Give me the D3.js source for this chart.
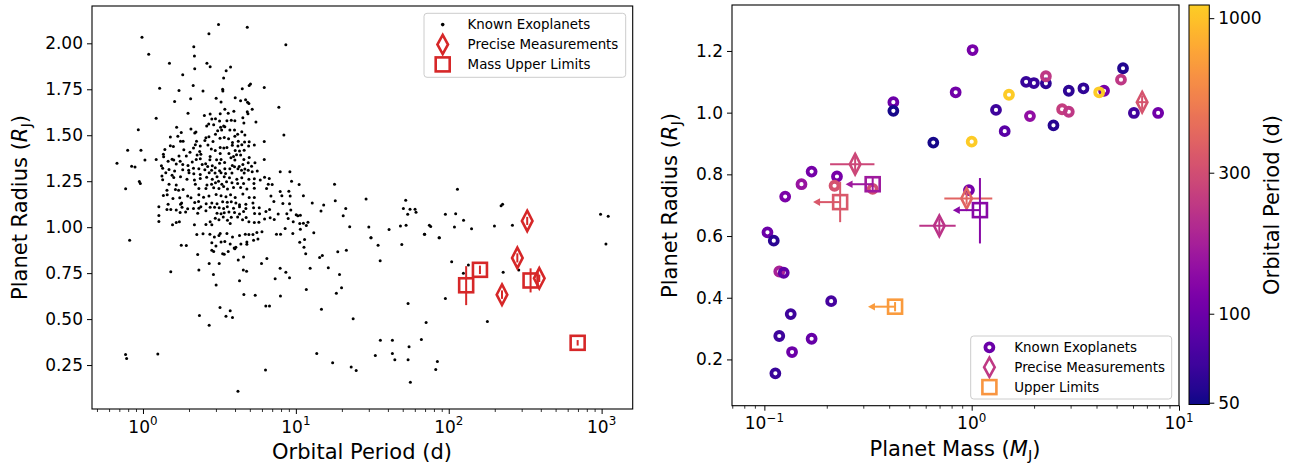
<!DOCTYPE html>
<html><head><meta charset="utf-8">
<script src="https://cdn.jsdelivr.net/npm/d3@7"></script>
<style>body{margin:0;background:#fff} svg{display:block} text{font-family:"DejaVu Sans",sans-serif;fill:#000}</style>
</head><body><svg id="c" width="1291" height="464"></svg>
<script>
// ---------------- DATA ----------------
// Left panel: known exoplanets [orbital period (d), radius (R_J)]
const knownExoplanets = [
[0.985,2.033],[1.09,1.940],[3.12,2.103],[4.81,2.087],[2.70,2.052],[8.6,1.992],[2.15,1.981],[2.17,1.931],
[1.49,1.891],[2.18,1.862],[2.62,1.891],[2.75,1.873],[3.50,1.851],[3.74,1.871],[1.82,1.829],[3.37,1.811],
[2.13,1.771],[5.05,1.779],[4.95,1.770],[6.21,1.760],[1.285,1.755],[1.72,1.744],[2.47,1.740],[4.46,1.753],[3.32,1.750],[3.33,1.740],
[2.05,1.699],[3.01,1.701],[4.01,1.704],[1.61,1.684],[3.24,1.681],[4.35,1.688],[4.69,1.693],[4.83,1.679],[7.74,1.652],[4.93,1.672],
[1.97,1.619],[2.75,1.615],[2.52,1.608],[3.20,1.617],[3.43,1.641],[3.61,1.619],[3.93,1.630],[4.81,1.628],[4.86,1.617],[5.18,1.641],
[1.22,1.593],[2.82,1.588],[2.98,1.590],[3.17,1.577],[3.54,1.579],[3.78,1.581],[3.99,1.579],[4.50,1.595],[5.48,1.572],[2.69,1.561],
[2.90,1.557],[1.66,1.544],[2.06,1.534],[2.61,1.550],[3.22,1.543],[3.37,1.550],[4.57,1.566],[3.43,1.546],
[0.932,1.530],[1.78,1.515],[2.18,1.512],[2.22,1.517],[3.08,1.524],[3.27,1.528],[3.70,1.528],[3.97,1.528],[1.69,1.495],[1.51,1.490],
[2.98,1.505],[2.58,1.486],[2.70,1.492],[3.99,1.495],[4.16,1.505],[4.43,1.519],[4.64,1.501],[8.35,1.501],[1.76,1.468],[1.83,1.468],
[2.24,1.468],[2.54,1.472],[2.87,1.466],[3.63,1.481],[3.85,1.461],[4.20,1.468],[4.62,1.463],[4.95,1.465],[6.21,1.466],[3.19,1.483],[3.40,1.488],
[1.51,1.443],[1.58,1.439],[2.20,1.448],[2.37,1.441],[2.66,1.447],[2.14,1.430],[3.20,1.434],[3.38,1.430],[3.54,1.434],[3.84,1.445],
[4.18,1.441],[4.43,1.448],[4.91,1.441],[5.35,1.447],[0.794,1.419],[0.970,1.419],[1.39,1.423],[1.85,1.421],[2.03,1.408],[2.35,1.412],
[2.80,1.425],[2.97,1.417],[4.01,1.417],[4.28,1.414],[4.59,1.419],[2.26,1.392],[2.39,1.397],[2.75,1.385],[3.20,1.401],[3.65,1.401],
[3.91,1.385],[4.09,1.394],[4.35,1.392],[1.72,1.387],[1.92,1.387],[1.36,1.396],[1.365,1.383],[1.03,1.365],[1.22,1.368],[1.55,1.370],
[1.46,1.358],[1.59,1.365],[1.75,1.359],[2.23,1.368],[2.37,1.372],[2.74,1.367],[3.03,1.367],[3.24,1.368],[3.76,1.377],[3.99,1.365],
[4.57,1.368],[4.95,1.379],[6.21,1.368],
[0.676,1.348],[0.843,1.332],[0.887,1.327],[1.32,1.334],[1.345,1.321],[1.65,1.343],[1.82,1.341],[1.97,1.336],[2.10,1.354],[2.44,1.341],
[2.57,1.345],[2.65,1.330],[2.84,1.334],[3.17,1.348],[3.42,1.352],[3.84,1.336],[3.97,1.328],[4.26,1.330],[4.50,1.341],[4.88,1.350],
[5.13,1.332],[5.40,1.350],[1.48,1.314],[1.61,1.305],[1.82,1.312],[1.99,1.310],[2.14,1.321],[2.32,1.318],[2.54,1.312],[2.81,1.310],
[2.97,1.323],[3.17,1.307],[3.43,1.318],[3.70,1.318],[4.18,1.318],[4.41,1.309],[4.64,1.316],[4.88,1.310],[1.41,1.296],[1.33,1.278],
[1.55,1.283],[2.00,1.296],[2.15,1.290],[2.37,1.287],[2.71,1.296],[2.96,1.294],[3.24,1.296],[3.47,1.292],[3.82,1.294],[4.59,1.294],
[5.18,1.301],[5.59,1.305],[7.90,1.301],[9.14,1.301],
[0.946,1.249],[0.961,1.238],[0.770,1.209],[1.345,1.258],[1.59,1.270],[1.76,1.274],[1.94,1.260],[2.17,1.256],[2.37,1.265],[2.61,1.272],
[2.84,1.260],[3.05,1.274],[3.40,1.274],[3.68,1.269],[4.11,1.261],[4.43,1.269],[4.93,1.260],[5.35,1.263],[5.85,1.256],[6.24,1.272],
[6.70,1.265],[9.37,1.250],[1.48,1.234],[1.65,1.229],[2.20,1.234],[2.62,1.229],[2.81,1.234],[2.98,1.241],[3.12,1.250],[3.28,1.234],
[3.52,1.247],[3.82,1.241],[4.16,1.238],[4.55,1.238],[5.32,1.238],[6.60,1.234],[7.00,1.232],[10.5,1.232],[1.435,1.201],[1.63,1.205],
[1.71,1.201],[1.83,1.205],[2.32,1.211],[2.58,1.211],[2.90,1.214],[3.14,1.211],[3.37,1.221],[3.57,1.207],[3.91,1.216],[4.35,1.216],
[4.78,1.207],[5.35,1.212],[6.43,1.211],[7.90,1.194],[9.00,1.196],
[1.36,1.172],[1.44,1.176],[1.57,1.156],[1.74,1.160],[1.79,1.132],[1.96,1.169],[2.06,1.160],[2.32,1.176],[2.49,1.163],[2.70,1.169],
[3.01,1.178],[3.24,1.171],[3.49,1.165],[3.74,1.176],[4.01,1.162],[4.50,1.180],[4.95,1.162],[5.35,1.162],[6.87,1.169],[8.10,1.171],
[9.18,1.169],[11.2,1.171],[1.46,1.125],[1.76,1.125],[2.18,1.134],[2.31,1.140],[2.59,1.127],[2.82,1.132],[3.05,1.127],[3.32,1.138],
[3.56,1.136],[3.78,1.138],[4.05,1.131],[4.28,1.122],[4.71,1.125],[5.24,1.132],[7.18,1.140],[8.22,1.129],[9.09,1.127],[12.8,1.132],
[1.27,1.111],[1.435,1.096],[1.52,1.096],[1.65,1.093],[1.80,1.109],[1.96,1.100],[2.14,1.102],[2.32,1.103],[2.39,1.111],[2.75,1.109],
[2.94,1.109],[3.15,1.105],[3.37,1.102],[3.56,1.111],[3.91,1.103],[4.28,1.111],[4.71,1.102],[5.29,1.105],[5.76,1.105],[6.73,1.096],[9.27,1.093],
[1.27,1.064],[1.75,1.080],[1.90,1.082],[2.28,1.076],[2.58,1.089],[3.05,1.076],[3.24,1.073],[3.40,1.078],[3.65,1.082],[3.97,1.080],
[4.28,1.071],[4.55,1.085],[5.37,1.074],[5.79,1.073],[6.37,1.085],[7.66,1.071],[8.73,1.073],[10.05,1.067],[10.3,1.062],[10.7,1.065],
[1.27,1.031],[1.56,1.013],[1.65,1.025],[1.73,1.029],[2.17,1.013],[2.58,1.015],[2.75,1.029],[2.97,1.049],[3.14,1.040],[3.35,1.056],
[3.57,1.038],[3.78,1.054],[4.16,1.056],[4.48,1.040],[4.73,1.053],[4.93,1.029],[5.35,1.025],[5.73,1.027],[6.24,1.044],[6.79,1.051],
[7.22,1.042],[8.91,1.047],[9.61,1.029],[10.6,1.020],[11.2,1.022],[11.7,1.009],[12.0,1.027],[2.82,1.013],[3.72,1.020],
[0.818,0.929],[1.78,0.902],[1.92,0.900],[2.28,0.851],[2.25,0.960],[2.47,0.964],[2.74,0.962],[2.93,0.947],[3.14,0.955],[3.20,0.966],
[3.54,0.966],[3.85,0.947],[4.28,0.955],[4.67,0.962],[4.93,0.960],[5.24,0.960],[5.56,0.971],[6.00,0.975],[7.47,0.962],[7.94,0.962],
[8.51,0.993],[9.55,0.966],[10.7,0.989],[13.1,0.969],[2.82,0.915],[3.00,0.898],[3.24,0.920],[3.43,0.922],[3.72,0.909],[3.95,0.887],
[4.05,0.891],[4.37,0.909],[4.78,0.920],[5.29,0.929],[5.65,0.935],[6.46,0.829],[11.3,0.891],[10.6,0.918],[2.82,0.875],[2.90,0.868],
[3.32,0.855],[3.40,0.853],[3.61,0.868],[3.99,0.882],[4.55,0.838],[4.78,0.907],[11.6,0.855],[14.3,0.835],
[1.52,0.758],[2.32,0.767],[2.71,0.803],[3.15,0.803],[4.20,0.821],[2.89,0.743],[3.01,0.685],[4.53,0.767],[4.76,0.760],[4.28,0.708],
[4.57,0.634],[5.42,0.630],[5.96,0.803],[7.32,0.719],[7.89,0.776],[8.60,0.755],[9.09,0.725],[7.93,0.625],[11.7,0.661],[12.4,0.776],
[6.36,0.571],[6.72,0.571],[2.34,0.520],[2.71,0.467],[3.19,0.563],[3.72,0.545],[3.49,0.516],[3.85,0.509],[0.769,0.308],[0.782,0.286],
[1.25,0.310],[6.33,0.223],[4.18,0.108],[13.7,0.313],
[11.4,0.933],[14.9,0.846],[18.8,0.866],[21.4,0.875],[31.0,0.943],[34.5,0.901],[49.3,0.906],[69.6,0.961],[86.9,0.943],[16.3,0.779],
[19.3,0.743],[35.6,0.817],[18.4,0.640],[19.9,0.671],[14.7,0.553],[23.7,0.502],[54.2,0.585],[71.1,0.482],[95.1,0.612],[104.5,0.812],
[134.4,0.794],[124.7,0.749],[179,0.487],[227,0.755],[287,0.767],[17.4,0.262],[23.0,0.239],[24.8,0.221],[33.1,0.302],[35.7,0.385],
[42.8,0.385],[42.8,0.313],[44.4,0.279],[54.2,0.279],[55.0,0.349],[56.1,0.157],[66.2,0.389],[82.2,0.226],[84.3,0.270],[1067,0.908],
[17.9,1.233],[15.2,1.120],[14.6,1.088],[18.1,1.144],[21.2,1.102],[20.4,1.062],[28.8,1.153],[52.3,1.147],[50.5,1.102],[55.8,1.097],
[60.2,1.098],[61.1,1.081],[53.9,1.070],[95.1,1.070],[111,1.073],[114,1.206],[125,1.037],[220,1.117],[225,1.124],[261,1.011],
[199,1.006],[109,1.001],[141,0.991],[74.7,1.010],[76.2,1.004],[69.3,0.962],[86.4,0.942],[48.3,1.006],[52.6,1.010],[40.7,0.988],
[30.0,1.001],[22.5,1.002],[31.0,0.942],[984,1.070],[1104,1.060]
];

// Precise measurements
const precisePeriod    = [281, 223, 391, 326];
const preciseRadius    = [0.833, 0.633, 0.722, 1.034];
const preciseRadiusErr = [0.025, 0.023, 0.020, 0.022];
const preciseMass      = [0.274, 0.698, 0.945, 6.64];
const preciseMassLo    = [0.2075, 0.559, 0.738, 6.25];
const preciseMassHi    = [0.3396, 0.837, 1.257, 7.05];

// Mass upper limits
const limitPeriod   = [130, 160, 343, 697];
const limitRadius   = [0.684, 0.768, 0.710, 0.371];
const limitRadiusLo = [0.576, 0.745, 0.645, 0.356];
const limitRadiusHi = [0.788, 0.791, 0.776, 0.386];
const limitMass     = [1.096, 0.333, 0.232, 0.427];

// Right panel: known exoplanets with mass measurements
const knownMass   = [1.01,0.837,0.419,0.419,0.653,1.00,0.169,0.151,0.126,0.224,0.218,0.333,0.97,0.1035,0.111,0.118,0.124,0.210,0.134,0.118,0.169,0.136,0.113,1.513,1.31,1.443,1.83,1.995,2.28,2.28,1.91,2.48,2.94,3.46,2.73,2.94,4.35,4.12,5.37,5.25,6.06,7.93];
const knownRadius = [1.203,1.066,1.034,1.006,0.903,0.906,0.809,0.768,0.728,0.793,0.763,0.753,0.749,0.612,0.585,0.485,0.481,0.389,0.347,0.276,0.267,0.224,0.155,1.058,1.009,0.940,1.100,1.096,1.095,1.118,0.989,0.959,1.071,1.079,1.011,1.003,1.071,1.066,1.144,1.107,0.999,0.999];
const knownPeriod = [110,105,100,52,52,1080,108,150,115,110,320,300,110,100,58,180,90,72,68,68,95,100,65,1080,68,85,65,65,60,230,140,57,60,62,250,230,110,1080,55,230,70,105];

const xTicksLeft  = [1, 10, 100, 1000];
const yTicksLeft  = [0.25, 0.50, 0.75, 1.00, 1.25, 1.50, 1.75, 2.00];
const xTicksRight = [0.1, 1, 10];
const yTicksRight = [0.2, 0.4, 0.6, 0.8, 1.0, 1.2];
const cbarTicks   = [50, 100, 300, 1000];

// ---------------- STYLE ----------------
const TICK_FS = 17, LABEL_FS = 21, LEG_FS = 13.4;
const RED = "#d62728";
const svg = d3.select("#c");

// scales
const L = {x0:92, x1:632.7, y0:6, y1:409};
const R = {x0:732, x1:1179, y0:5, y1:405.7};
const CB = {x0:1189, x1:1209.3, y0:5, y1:404.5};
const xL = d3.scaleLog().domain([0.464,1597]).range([L.x0,L.x1]);
const yL = d3.scaleLinear().domain([0.011,2.203]).range([L.y1,L.y0]);
const xR = d3.scaleLog().domain([0.0698,10]).range([R.x0,R.x1]);
const yR = d3.scaleLinear().domain([0.05,1.349]).range([R.y1,R.y0]);
const cbScale = d3.scaleLog().domain([49.3,1108]).range([CB.y1,CB.y0]);
const cNorm = d3.scaleLog().domain([49.3,1108]).range([0,1]).clamp(true);
const cmap = p => d3.interpolatePlasma(0.9*cNorm(p));

const diamondPath = (w,h) => `M0,${-h}L${w},0L0,${h}L${-w},0Z`;

function minorTicks(scale){
  const [a,b] = scale.domain();
  const out=[];
  for(let e=Math.floor(Math.log10(a)); e<=Math.ceil(Math.log10(b)); e++){
    for(let k=2;k<=9;k++){const v=k*Math.pow(10,e); if(v>=a&&v<=b) out.push(v);}
  }
  return out;
}

function styleAxis(g){
  g.selectAll("path.domain").remove();
  g.selectAll("line").attr("stroke","#000");
  g.attr("font-family",null).attr("font-size",null);
}

function xAxisLog(scale, ticks, y0, baseline){
  const gM = svg.append("g").attr("transform",`translate(0,${y0})`)
    .call(d3.axisBottom(scale).tickValues(ticks).tickSize(5).tickFormat(""));
  styleAxis(gM); gM.selectAll("line").attr("stroke-width",1);
  const gm = svg.append("g").attr("transform",`translate(0,${y0})`)
    .call(d3.axisBottom(scale).tickValues(minorTicks(scale)).tickSize(3).tickFormat(""));
  styleAxis(gm); gm.selectAll("line").attr("stroke-width",0.8);
  ticks.forEach(v=>{
    const e = Math.round(Math.log10(v));
    const t = svg.append("text").attr("x",scale(v)).attr("y",baseline)
      .attr("text-anchor","middle").attr("font-size",TICK_FS);
    t.append("tspan").text("10");
    t.append("tspan").attr("dy",-7.5).attr("font-size",TICK_FS*0.7).text(e<0?"\u2212"+(-e):String(e));
  });
}

function yAxisLin(scale, ticks, x0, fmt){
  const g = svg.append("g").attr("transform",`translate(${x0},0)`)
    .call(d3.axisLeft(scale).tickValues(ticks).tickSize(5).tickPadding(4).tickFormat(d3.format(fmt)));
  styleAxis(g);
  g.selectAll("text").attr("font-size",TICK_FS);
}

function radiusLabel(x,y,rot){
  const t = svg.append("text").attr("transform",`translate(${x},${y}) rotate(${rot})`)
    .attr("text-anchor","middle").attr("font-size",LABEL_FS);
  t.append("tspan").text("Planet Radius (");
  t.append("tspan").attr("font-style","italic").text("R");
  t.append("tspan").attr("dy",4).attr("font-size",LABEL_FS*0.7).text("J");
  t.append("tspan").attr("dy",-4).text(")");
}

function legend(x,y,w,h,items){
  svg.append("rect").attr("x",x).attr("y",y).attr("width",w).attr("height",h).attr("rx",3)
    .attr("fill","#fff").attr("fill-opacity",0.8).attr("stroke","#cccccc").attr("stroke-width",1);
  items.forEach((it,i)=>{
    const cy = y + 11.3 + i*19.9;
    const g = svg.append("g").attr("transform",`translate(${x+18.7},${cy})`);
    it.draw(g);
    svg.append("text").attr("x",x+43.6).attr("y",cy+4.8).attr("font-size",LEG_FS).text(it.label);
  });
}

// ---------------- LEFT PANEL ----------------
svg.append("g").selectAll("circle").data(knownExoplanets).join("circle")
  .attr("cx",d=>xL(d[0])).attr("cy",d=>yL(d[1])).attr("r",1.5).attr("fill","#000");

// error bars
svg.append("g").selectAll("line").data(precisePeriod).join("line")
  .attr("x1",(d)=>xL(d)).attr("x2",(d)=>xL(d))
  .attr("y1",(d,i)=>yL(preciseRadius[i]-preciseRadiusErr[i])).attr("y2",(d,i)=>yL(preciseRadius[i]+preciseRadiusErr[i]))
  .attr("stroke",RED).attr("stroke-width",2);
svg.append("g").selectAll("line").data(limitPeriod).join("line")
  .attr("x1",d=>xL(d)).attr("x2",d=>xL(d))
  .attr("y1",(d,i)=>yL(limitRadiusLo[i])).attr("y2",(d,i)=>yL(limitRadiusHi[i]))
  .attr("stroke",RED).attr("stroke-width",2);
svg.append("g").selectAll("path").data(precisePeriod).join("path")
  .attr("transform",(d,i)=>`translate(${xL(d)},${yL(preciseRadius[i])})`)
  .attr("d",diamondPath(5.3,10.2)).attr("fill","none").attr("stroke",RED).attr("stroke-width",2.6);
svg.append("g").selectAll("rect").data(limitPeriod).join("rect")
  .attr("x",d=>xL(d)-7).attr("y",(d,i)=>yL(limitRadius[i])-7).attr("width",14).attr("height",14)
  .attr("fill","none").attr("stroke",RED).attr("stroke-width",2.6);

svg.append("rect").attr("x",L.x0).attr("y",L.y0).attr("width",L.x1-L.x0).attr("height",L.y1-L.y0)
  .attr("fill","none").attr("stroke","#000").attr("stroke-width",1.1);
xAxisLog(xL, xTicksLeft, L.y1, 432.7);
yAxisLin(yL, yTicksLeft, L.x0, ".2f");
radiusLabel(27, 207.5, -90);
svg.append("text").attr("x",362).attr("y",459).attr("text-anchor","middle").attr("font-size",LABEL_FS).text("Orbital Period (d)");

legend(424,13.3,201.7,64,[
  {label:"Known Exoplanets", draw:g=>g.append("circle").attr("r",1.8).attr("fill","#000")},
  {label:"Precise Measurements", draw:g=>g.append("path").attr("d",diamondPath(5.3,9.6)).attr("fill","none").attr("stroke",RED).attr("stroke-width",2.6)},
  {label:"Mass Upper Limits", draw:g=>g.append("rect").attr("x",-7).attr("y",-7).attr("width",14).attr("height",14).attr("fill","none").attr("stroke",RED).attr("stroke-width",2.6)}
]);

// ---------------- RIGHT PANEL ----------------
svg.append("g").selectAll("circle").data(knownMass).join("circle")
  .attr("cx",d=>xR(d)).attr("cy",(d,i)=>yR(knownRadius[i])).attr("r",4)
  .attr("fill","none").attr("stroke",(d,i)=>cmap(knownPeriod[i])).attr("stroke-width",3.8);

// precise: error bars + diamonds
const gp = svg.append("g");
precisePeriod.forEach((p,i)=>{
  const col = cmap(p), cx = xR(preciseMass[i]), cy = yR(preciseRadius[i]);
  gp.append("line").attr("x1",xR(preciseMassLo[i])).attr("x2",xR(preciseMassHi[i])).attr("y1",cy).attr("y2",cy).attr("stroke",col).attr("stroke-width",2);
  gp.append("line").attr("x1",cx).attr("x2",cx).attr("y1",yR(preciseRadius[i]-preciseRadiusErr[i])).attr("y2",yR(preciseRadius[i]+preciseRadiusErr[i])).attr("stroke",col).attr("stroke-width",2);
  gp.append("path").attr("transform",`translate(${cx},${cy})`).attr("d",diamondPath(5.3,10.2)).attr("fill","none").attr("stroke",col).attr("stroke-width",2.6);
});
// upper limits: arrows + error bars + squares
const ARROW = 0.74;
const gl = svg.append("g");
limitPeriod.forEach((p,i)=>{
  const col = cmap(p), cx = xR(limitMass[i]), cy = yR(limitRadius[i]);
  const tip = xR(limitMass[i]*ARROW);
  gl.append("line").attr("x1",cx).attr("x2",tip+5).attr("y1",cy).attr("y2",cy).attr("stroke",col).attr("stroke-width",2);
  gl.append("path").attr("d",`M${tip},${cy}L${tip+7},${cy-3.8}L${tip+7},${cy+3.8}Z`).attr("fill",col);
  gl.append("line").attr("x1",cx).attr("x2",cx).attr("y1",yR(limitRadiusLo[i])).attr("y2",yR(limitRadiusHi[i])).attr("stroke",col).attr("stroke-width",2);
  gl.append("rect").attr("x",cx-7).attr("y",cy-7).attr("width",14).attr("height",14).attr("fill","none").attr("stroke",col).attr("stroke-width",2.6);
});

svg.append("rect").attr("x",R.x0).attr("y",R.y0).attr("width",R.x1-R.x0).attr("height",R.y1-R.y0)
  .attr("fill","none").attr("stroke","#000").attr("stroke-width",1.1);
xAxisLog(xR, xTicksRight, R.y1, 429);
yAxisLin(yR, yTicksRight, R.x0, ".1f");
radiusLabel(677, 205.5, -90);
{
  const t = svg.append("text").attr("x",955).attr("y",456).attr("text-anchor","middle").attr("font-size",LABEL_FS);
  t.append("tspan").text("Planet Mass (");
  t.append("tspan").attr("font-style","italic").text("M");
  t.append("tspan").attr("dy",4).attr("font-size",LABEL_FS*0.7).text("J");
  t.append("tspan").attr("dy",-4).text(")");
}

legend(970.7,336,201,63,[
  {label:"Known Exoplanets", draw:g=>g.append("circle").attr("r",4).attr("fill","none").attr("stroke",d3.interpolatePlasma(0.2)).attr("stroke-width",3.8)},
  {label:"Precise Measurements", draw:g=>g.append("path").attr("d",diamondPath(5.3,9.6)).attr("fill","none").attr("stroke",d3.interpolatePlasma(0.45)).attr("stroke-width",2.6)},
  {label:"Upper Limits", draw:g=>g.append("rect").attr("x",-7).attr("y",-7).attr("width",14).attr("height",14).attr("fill","none").attr("stroke",d3.interpolatePlasma(0.75)).attr("stroke-width",2.6)}
]);

// ---------------- COLORBAR ----------------
const defs = svg.append("defs");
const grad = defs.append("linearGradient").attr("id","cb").attr("x1",0).attr("y1",1).attr("x2",0).attr("y2",0);
d3.range(0,1.0001,0.02).forEach(t=>grad.append("stop").attr("offset",t).attr("stop-color",d3.interpolatePlasma(0.9*t)));
svg.append("rect").attr("x",CB.x0).attr("y",CB.y0).attr("width",CB.x1-CB.x0).attr("height",CB.y1-CB.y0)
  .attr("fill","url(#cb)").attr("stroke","#000").attr("stroke-width",1);
const gcb = svg.append("g").attr("transform",`translate(${CB.x1},0)`)
  .call(d3.axisRight(cbScale).tickValues(cbarTicks).tickSize(5).tickPadding(4).tickFormat(d3.format("d")));
styleAxis(gcb);
gcb.selectAll("text").attr("font-size",TICK_FS);
svg.append("text").attr("transform","translate(1279,205) rotate(-90)").attr("text-anchor","middle")
  .attr("font-size",LABEL_FS).text("Orbital Period (d)");
</script></body></html>
